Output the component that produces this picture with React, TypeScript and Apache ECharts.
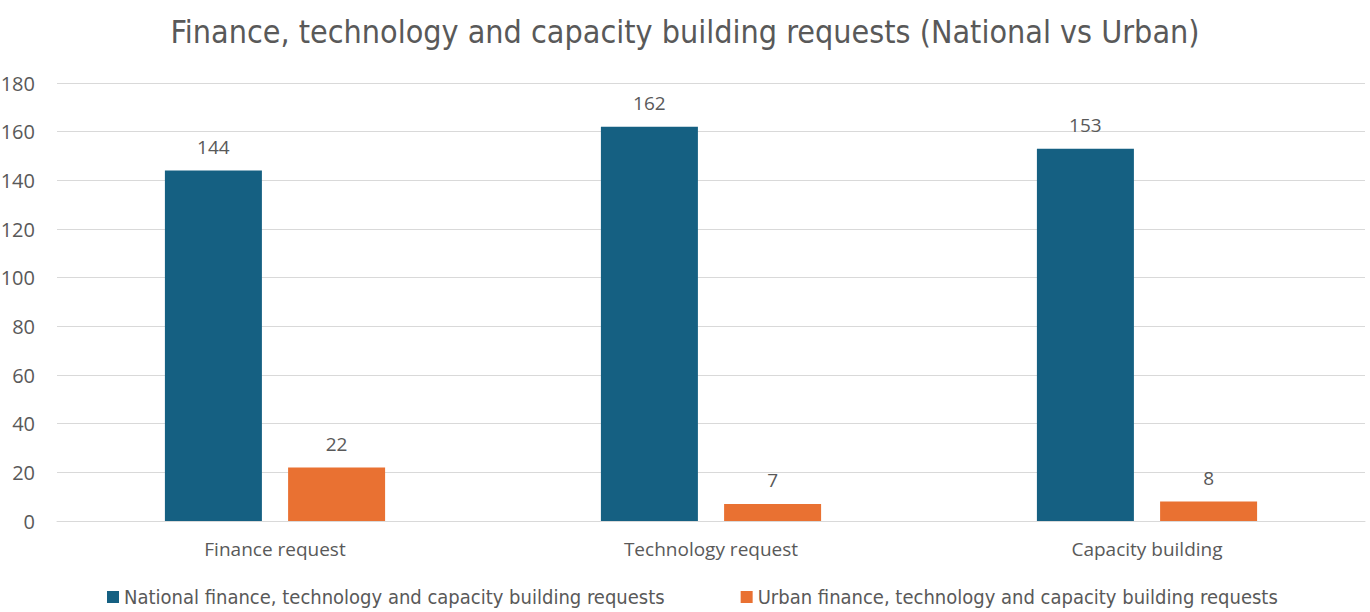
import React, { useEffect, useRef } from "react";
import * as echarts from "echarts";

const title = "Finance, technology and capacity building requests (National vs Urban)";
const categories = ["Finance request", "Technology request", "Capacity building"];
const seriesNames = [
  "National finance, technology and capacity building requests",
  "Urban finance, technology and capacity building requests",
];
const nationalValues = [144, 162, 153];
const urbanValues = [22, 7, 8];
const yMin = 0;
const yMax = 180;
const yStep = 20;

const NARROW = "'Liberation Sans Narrow', 'DejaVu Sans Condensed', 'Liberation Sans', sans-serif";
const SANS = "'Open Sans', 'Liberation Sans', Arial, sans-serif";
const TEXT = "#595959";

export default function App() {
  const ref = useRef<HTMLDivElement>(null);
  useEffect(() => {
    if (!ref.current) return;
    const chart = echarts.init(ref.current, undefined, { renderer: "svg" });
    chart.setOption({
      animation: false,
      backgroundColor: "#ffffff",
      title: {
        text: title,
        left: "center",
        top: 11,
        textStyle: { fontFamily: NARROW, fontSize: 32, fontWeight: "normal", color: TEXT },
      },
      legend: {
        bottom: 0,
        left: 112,
        itemWidth: 12,
        itemHeight: 12,
        itemGap: 76,
        icon: "rect",
        textStyle: { fontFamily: NARROW, fontSize: 20, color: TEXT },
        data: seriesNames,
      },
      grid: { left: 67, right: 15, top: 83, bottom: 91, containLabel: false },
      xAxis: {
        type: "category",
        data: categories,
        axisLine: { show: true, lineStyle: { color: "#d9d9d9", width: 1 } },
        axisTick: { show: false },
        axisLabel: { fontFamily: SANS, fontSize: 19, color: TEXT, margin: 18 },
      },
      yAxis: {
        type: "value",
        min: yMin,
        max: yMax,
        interval: yStep,
        axisLine: { show: false },
        axisTick: { show: false },
        axisLabel: { fontFamily: SANS, fontSize: 20, color: TEXT, margin: 22 },
        splitLine: { lineStyle: { color: "#d9d9d9", width: 1 } },
      },
      series: [
        {
          name: seriesNames[0],
          type: "bar",
          data: nationalValues,
          barWidth: 97,
          barGap: "27%",
          itemStyle: { color: "#156082" },
          label: { show: true, position: "top", distance: 14, fontFamily: SANS, fontSize: 19, color: TEXT },
        },
        {
          name: seriesNames[1],
          type: "bar",
          data: urbanValues,
          barWidth: 97,
          itemStyle: { color: "#E97132" },
          label: { show: true, position: "top", distance: 14, fontFamily: SANS, fontSize: 19, color: TEXT },
        },
      ],
    });
    return () => chart.dispose();
  }, []);
  return (
    <div
      ref={ref}
      style={{ position: "absolute", left: -10, top: 0, width: 1390, height: 612 }}
    />
  );
}
